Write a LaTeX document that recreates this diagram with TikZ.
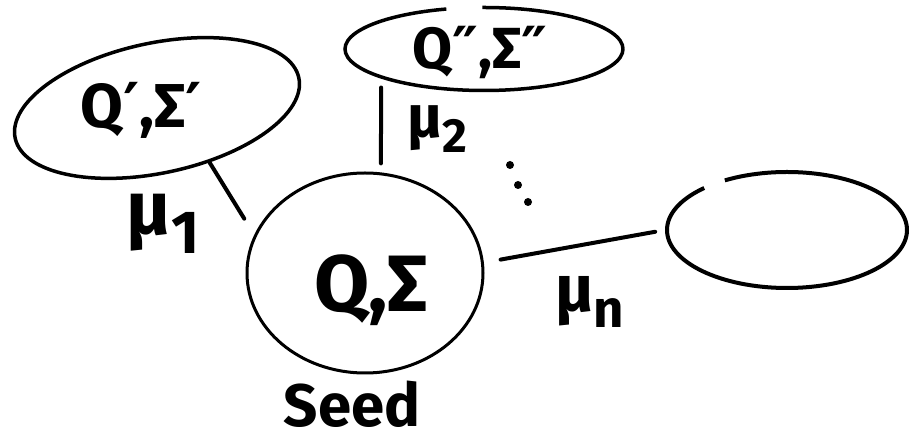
\documentclass[tikz,border=0pt]{standalone}
\usepackage{fontspec}
\newfontfamily\hand{Fira Sans}
\newfontfamily\symf{DejaVu Sans}
\usetikzlibrary{shapes.geometric}
\tikzset{
  blob/.style={ellipse, draw, line width=3.5pt, inner sep=0pt},
  conn/.style={line width=4pt, line cap=round},
  lbl/.style={inner sep=0pt, font=\fontsize{#1}{#1}\selectfont\hand\bfseries},
  dotmark/.style={circle, fill, inner sep=0pt, minimum size=8pt}
}
\newcommand{\subsc}[1]{\raisebox{-0.25em}{\scalebox{0.8}{#1}}}
\newcommand{\pr}{{\symf ′}}
\newcommand{\ppr}{{\symf ″}}
\begin{document}
\begin{tikzpicture}[x=1pt,y=1pt]
\useasboundingbox (0,0) rectangle (916,444);
% nodes
\node[blob, minimum width=290pt, minimum height=130pt, rotate=12] (e1) at (157,336) {};
\node[lbl=62] (t1) at (141,334) {Q\pr,Σ\pr};
\node[blob, minimum width=278pt, minimum height=83pt,
      dash pattern=on 154pt off 36pt on 700pt] (e2) at (484,395) {};
\node[lbl=58] (t2) at (480,392) {Q\ppr,Σ\ppr};
\node[blob, line width=3pt, minimum width=236pt, minimum height=200pt] (seed) at (365,171) {};
\node[lbl=80] (t0) at (371,154) {Q,Σ};
\node[lbl=60] (sl) at (352,40) {Seed};
\node[blob, line width=4pt, minimum width=240pt, minimum height=116pt,
      dash pattern=on 207pt off 22pt on 700pt] (e3) at (787,214) {};
% connectors
\draw[conn, shorten >=19pt] (e1.-58) -- (seed.161);
\draw[conn, shorten <=9pt, shorten >=9pt] (e2.196) -- (seed.81);
\draw[conn, shorten <=17pt, shorten >=10pt] (seed.5) -- (e3.west);
% labels
\node[lbl=76] (m1) at (163,220) {μ\subsc{1}};
\node[lbl=60] (m2) at (437,315) {μ\subsc{2}};
\node[lbl=66] (mn) at (590,142) {μ\subsc{n}};
% dots
\node[dotmark] (d1) at (510,279) {};
\node[dotmark] (d2) at (518,259) {};
\node[dotmark] (d3) at (528,242) {};
\end{tikzpicture}
\end{document}
